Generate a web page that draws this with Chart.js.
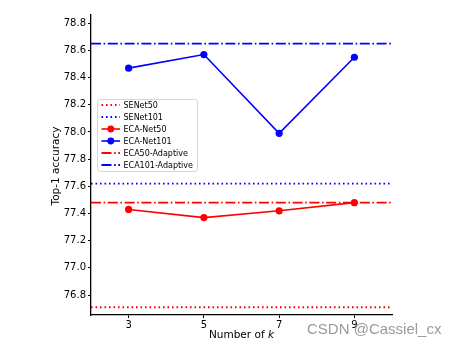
<!DOCTYPE html>
<html>
<head>
<meta charset="utf-8">
<script src="https://cdn.jsdelivr.net/npm/chart.js@4/dist/chart.umd.min.js"></script>
<style>
  html, body { margin: 0; padding: 0; background: #fff; }
  #wrap { position: relative; width: 458px; height: 347px; }
  #wm { position: absolute; left: 307px; top: 320px; font: 15px "Liberation Sans", Arial, sans-serif; color: #9a9a9a; white-space: nowrap; }
</style>
</head>
<body>
<div id="wrap">
  <canvas id="c" width="458" height="347"></canvas>
  <div id="wm">CSDN @Cassiel_cx</div>
</div>
<script>
// ---- data ----
const kValues = [3, 5, 7, 9];
const ecaNet50 = [77.43, 77.37, 77.42, 77.48];
const ecaNet101 = [78.47, 78.57, 77.99, 78.55];
const seNet50 = 76.71;
const seNet101 = 77.62;
const eca50Adaptive = 77.48;
const eca101Adaptive = 78.65;
const xRange = [2, 10];
const yRange = [76.653, 78.861];
const yTickValues = [76.8, 77.0, 77.2, 77.4, 77.6, 77.8, 78.0, 78.2, 78.4, 78.6, 78.8];
const legendLabels = ['SENet50', 'SENet101', 'ECA-Net50', 'ECA-Net101', 'ECA50-Adaptive', 'ECA101-Adaptive'];

const RED = '#ff0000', BLUE = '#0000ff';
const DOT = [1.6, 2.9];
const DASHDOT = [10, 2.6, 1.6, 2.6];
const hline = v => xRange.map(x => ({x, y: v}));
const pts = arr => kValues.map((k, i) => ({x: k, y: arr[i]}));

const base = { showLine: true, pointRadius: 0, borderWidth: 1.8, fill: false, tension: 0 };
const datasets = [
  {...base, label: legendLabels[0], data: hline(seNet50), borderColor: RED, borderDash: DOT},
  {...base, label: legendLabels[1], data: hline(seNet101), borderColor: BLUE, borderDash: DOT},
  {...base, label: legendLabels[2], data: pts(ecaNet50), borderColor: RED, backgroundColor: RED, pointRadius: 3.6, pointBorderWidth: 0, borderWidth: 1.6},
  {...base, label: legendLabels[3], data: pts(ecaNet101), borderColor: BLUE, backgroundColor: BLUE, pointRadius: 3.6, pointBorderWidth: 0, borderWidth: 1.6},
  {...base, label: legendLabels[4], data: hline(eca50Adaptive), borderColor: RED, borderDash: DASHDOT},
  {...base, label: legendLabels[5], data: hline(eca101Adaptive), borderColor: BLUE, borderDash: DASHDOT},
];

const FONT = '"DejaVu Sans", sans-serif';

const decor = {
  id: 'decor',
  afterDraw(chart) {
    const ctx = chart.ctx, a = chart.chartArea;
    ctx.save();
    // y title
    ctx.fillStyle = '#000';
    ctx.font = '10.5px ' + FONT;
    ctx.textAlign = 'center';
    ctx.textBaseline = 'middle';
    ctx.translate(56, (a.top + a.bottom) / 2 + 1);
    ctx.rotate(-Math.PI / 2);
    ctx.fillText('Top-1 accuracy', 0, 0);
    ctx.restore();
    // x title with italic k
    ctx.save();
    ctx.fillStyle = '#000';
    ctx.textBaseline = 'middle';
    ctx.textAlign = 'left';
    const t1 = 'Number of ', t2 = 'k';
    ctx.font = '10.5px ' + FONT;
    const w1 = ctx.measureText(t1).width;
    ctx.font = 'italic 10.5px ' + FONT;
    const w2 = ctx.measureText(t2).width;
    const cx = (a.left + a.right) / 2;
    let x0 = cx - (w1 + w2) / 2;
    ctx.font = '10.5px ' + FONT;
    ctx.fillText(t1, x0, 335);
    ctx.font = 'italic 10.5px ' + FONT;
    ctx.fillText(t2, x0 + w1, 335);
    ctx.restore();
    // legend
    ctx.save();
    const bx = 97.5, by = 99.5, bw = 100, bh = 72, r = 2.5;
    ctx.globalAlpha = 0.8;
    ctx.fillStyle = '#fff';
    ctx.beginPath();
    ctx.roundRect(bx, by, bw, bh, r);
    ctx.fill();
    ctx.globalAlpha = 1;
    ctx.strokeStyle = '#d6d6d6';
    ctx.lineWidth = 1;
    ctx.stroke();
    ctx.font = '8px ' + FONT;
    ctx.textBaseline = 'middle';
    ctx.textAlign = 'left';
    chart.data.datasets.forEach((ds, i) => {
      const y = 105 + i * 12;
      ctx.strokeStyle = ds.borderColor;
      ctx.lineWidth = ds.borderWidth;
      ctx.setLineDash(ds.borderDash || []);
      ctx.beginPath();
      ctx.moveTo(101.5, y);
      ctx.lineTo(120, y);
      ctx.stroke();
      ctx.setLineDash([]);
      if (ds.pointRadius > 0) {
        ctx.fillStyle = ds.borderColor;
        ctx.beginPath();
        ctx.arc(110.8, y, 3.4, 0, Math.PI * 2);
        ctx.fill();
      }
      ctx.fillStyle = '#000';
      ctx.fillText(ds.label, 123.5, y + 0.5);
    });
    ctx.restore();
  }
};

new Chart(document.getElementById('c'), {
  type: 'scatter',
  data: { datasets },
  options: {
    responsive: false,
    animation: false,
    devicePixelRatio: 1,
    layout: { padding: { left: 0, right: 66, top: 15, bottom: 0 } },
    plugins: { legend: { display: false }, tooltip: { enabled: false } },
    scales: {
      x: {
        type: 'linear', min: xRange[0], max: xRange[1],
        afterBuildTicks: s => { s.ticks = kValues.map(v => ({value: v})); },
        afterFit: s => { s.height = 32; },
        grid: { display: true, drawOnChartArea: false, tickLength: 3, tickColor: '#000', tickWidth: 1 },
        border: { display: true, color: '#000', width: 1.3 },
        ticks: { color: '#000', font: { family: FONT, size: 10 }, padding: 1, maxRotation: 0, callback: v => String(v) },
        title: { display: false }
      },
      y: {
        type: 'linear', min: yRange[0], max: yRange[1],
        afterBuildTicks: s => { s.ticks = yTickValues.map(v => ({value: v})); },
        afterFit: s => { s.width = 91; },
        grid: { display: true, drawOnChartArea: false, tickLength: 3, tickColor: '#000', tickWidth: 1 },
        border: { display: true, color: '#000', width: 1.3 },
        ticks: { color: '#000', font: { family: FONT, size: 10 }, padding: 2, callback: v => v.toFixed(1) },
        title: { display: false }
      }
    }
  },
  plugins: [decor]
});
</script>
</body>
</html>
